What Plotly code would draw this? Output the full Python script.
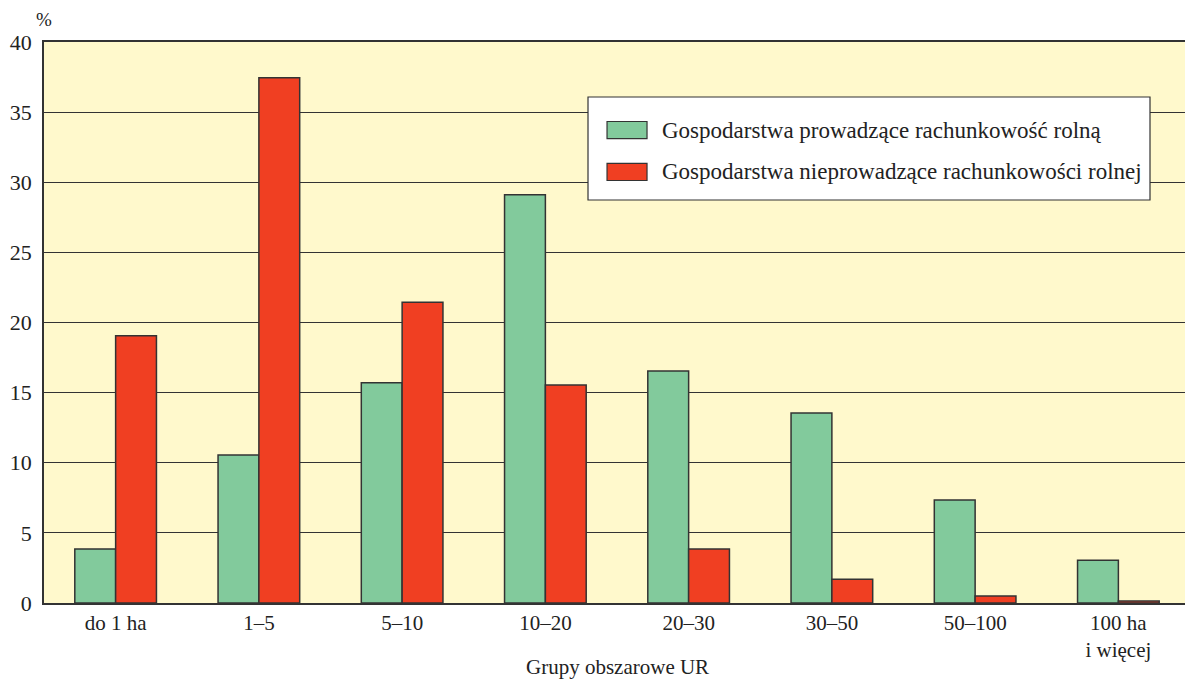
import plotly.graph_objects as go

# Farm area groups (UR = agricultural land)
categories = ["do 1 ha", "1–5", "5–10", "10–20", "20–30", "30–50", "50–100", "100 ha<br>i więcej"]
with_accounting = [3.85, 10.55, 15.7, 29.1, 16.55, 13.55, 7.35, 3.05]
without_accounting = [19.05, 37.45, 21.45, 15.55, 3.85, 1.7, 0.5, 0.15]
series_names = ["Gospodarstwa prowadzące rachunkowość rolną",
                "Gospodarstwa nieprowadzące rachunkowości rolnej"]

GREEN = "#82CA9C"
RED = "#F03F22"
EDGE = "#333333"
TEXT = "#222222"
FONT = "Liberation Serif, Times New Roman, serif"

fig = go.Figure()
fig.add_trace(go.Bar(x=categories, y=with_accounting, name=series_names[0],
                     marker=dict(color=GREEN, line=dict(color=EDGE, width=1.5))))
fig.add_trace(go.Bar(x=categories, y=without_accounting, name=series_names[1],
                     marker=dict(color=RED, line=dict(color=EDGE, width=1.5))))

# page body has an 8px margin, so the figure is sized/offset to compensate
fig.update_layout(width=1185, height=673,
                  paper_bgcolor="white", plot_bgcolor="#FFF9CC",
                  margin=dict(l=36, r=3, t=34, b=78),
                  barmode="group", bargap=0.43, bargroupgap=0,
                  showlegend=False,
                  font=dict(family=FONT, color=TEXT, size=21),
                  xaxis=dict(showgrid=False, zeroline=False, ticks="", automargin=False,
                             showline=True, linecolor=EDGE, linewidth=1.5, mirror=True,
                             tickfont=dict(size=21, family=FONT)),
                  yaxis=dict(range=[0, 40], dtick=5, showgrid=True, gridcolor=EDGE, gridwidth=1,
                             zeroline=False, showline=True, linecolor=EDGE, linewidth=1.5,
                             ticks="", ticklabelstandoff=6, automargin=False,
                             tickfont=dict(size=22, family=FONT)))

# Legend box drawn by hand so the swatches are wide rectangles like the original
fig.add_shape(type="rect", xref="paper", yref="paper", x0=0.4747, x1=0.9651, y0=0.7184, y1=0.9020,
              fillcolor="white", line=dict(color=EDGE, width=1.2), layer="above")
for name, color, y_mid in zip(series_names, [GREEN, RED], [0.8431, 0.7683]):
    fig.add_shape(type="rect", xref="paper", yref="paper", x0=0.4913, x1=0.5262,
                  y0=y_mid - 0.0152, y1=y_mid + 0.0152,
                  fillcolor=color, line=dict(color=EDGE, width=1.2), layer="above")
    fig.add_annotation(text=name, xref="paper", yref="paper", x=0.5375, y=y_mid,
                       xanchor="left", yanchor="middle", showarrow=False,
                       font=dict(size=23, family=FONT, color=TEXT))

fig.add_annotation(text="%", xref="paper", yref="paper", x=0.0, y=1.04,
                   xanchor="center", yanchor="middle", showarrow=False,
                   font=dict(size=19, family=FONT, color=TEXT))
fig.add_annotation(text="Grupy obszarowe UR", xref="paper", yref="paper", x=0.5, y=-0.114,
                   xanchor="center", yanchor="middle", showarrow=False,
                   font=dict(size=21, family=FONT, color=TEXT))

fig.write_html("out.html")
